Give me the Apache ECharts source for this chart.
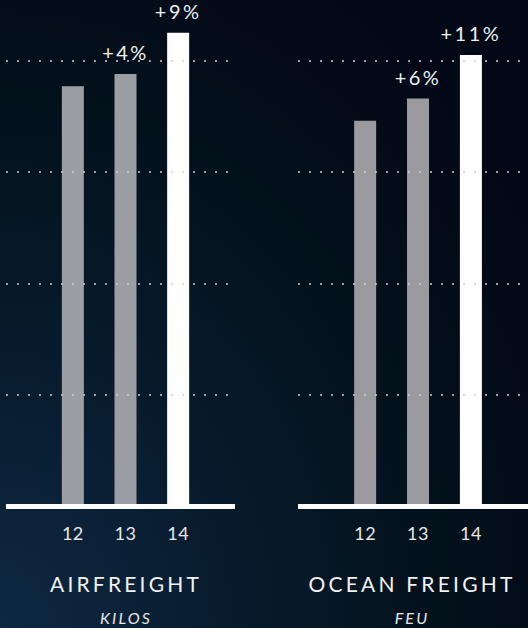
<!DOCTYPE html>
<html>
<head>
<meta charset="utf-8">
<script src="https://cdn.jsdelivr.net/npm/echarts@6/dist/echarts.min.js"></script>
<style>
  html, body { margin: 0; padding: 0; background: #030712; }
  #chart { width: 528px; height: 628px; }
  text[style*="spA"] { letter-spacing: 3.2px; }
  text[style*="spB"] { letter-spacing: 2.5px; }
  text[style*="spC"] { letter-spacing: 2.2px; }
  text[style*="spD"] { letter-spacing: 0.5px; }
</style>
</head>
<body>
<div id="chart"></div>
<script>
// ---- data ----
const years = ['12', '13', '14'];
const airValues = [3.77, 3.88, 4.25];
const oceanValues = [3.46, 3.66, 4.05];
const airChange = ['', '+4%', '+9%'];
const oceanChange = ['', '+6%', '+11%'];
const panelTitles = ['AIRFREIGHT', 'OCEAN FREIGHT'];
const panelUnits = ['KILOS', 'FEU'];

const chart = echarts.init(document.getElementById('chart'), null, { renderer: 'svg' });

function xAxisFor(gridIndex) {
  return {
    type: 'value',
    gridIndex: gridIndex,
    min: 10.73,
    max: 15.08,
    splitLine: { show: false },
    axisTick: { show: false },
    axisLine: { show: true, onZero: false, lineStyle: { color: '#ffffff', width: 5, cap: 'butt' } },
    axisLabel: {
      customValues: years.map(Number),
      formatter: v => String(v),
      color: '#e8e8e8',
      fontSize: 18,
      fontFamily: 'Lato, spD, sans-serif',
      margin: 18
    },
    z: 4
  };
}
function yAxisFor(gridIndex) {
  return {
    type: 'value',
    gridIndex: gridIndex,
    min: 0,
    max: 4.5,
    interval: 1,
    axisLine: { show: false },
    axisTick: { show: false },
    axisLabel: { show: false },
    splitLine: {
      show: true,
      showMinLine: false,
      showMaxLine: false,
      lineStyle: { color: '#cfcfcf', width: 1.5, type: [2, 9] }
    },
    z: 3
  };
}
function barSeries(idx, values, changes, gray) {
  return {
    type: 'bar',
    xAxisIndex: idx,
    yAxisIndex: idx,
    barWidth: 22,
    data: years.map((y, i) => [Number(y), values[i]]),
    itemStyle: {
      color: p => (p.dataIndex === years.length - 1 ? '#ffffff' : gray)
    },
    label: {
      show: true,
      position: 'top',
      distance: 12,
      color: '#f0f0f0',
      fontSize: 20,
      fontFamily: 'Lato, spB, sans-serif',
      formatter: p => changes[p.dataIndex]
    },
    z: 2
  };
}

const titleCenters = [126, 412];
const graphics = [];
panelTitles.forEach((t, i) => {
  graphics.push({
    type: 'text', x: titleCenters[i], y: 583,
    style: { text: t, textAlign: 'center', textVerticalAlign: 'middle',
             fill: '#f2f2f2', fontSize: 21, fontFamily: 'Lato, spA, sans-serif' }
  });
  graphics.push({
    type: 'text', x: titleCenters[i], y: 617,
    style: { text: panelUnits[i], textAlign: 'center', textVerticalAlign: 'middle',
             fill: '#e8e8e8', fontSize: 16, fontStyle: 'italic', fontFamily: 'Lato, spC, sans-serif' }
  });
});

chart.setOption({
  animation: false,
  backgroundColor: {
    type: 'radial', x: 0, y: 1, r: 1.2,
    colorStops: [
      { offset: 0, color: '#0e2842' },
      { offset: 0.35, color: '#081c2e' },
      { offset: 0.7, color: '#03111b' },
      { offset: 1, color: '#030816' }
    ]
  },
  grid: [
    { left: 6, width: 229, top: 5, bottom: 122 },
    { left: 298, width: 230, top: 5, bottom: 122 }
  ],
  xAxis: [xAxisFor(0), xAxisFor(1)],
  yAxis: [yAxisFor(0), yAxisFor(1)],
  series: [
    barSeries(0, airValues, airChange, '#9b9ea3'),
    barSeries(1, oceanValues, oceanChange, '#9b9a9f')
  ],
  graphic: graphics
});
</script>
</body>
</html>
